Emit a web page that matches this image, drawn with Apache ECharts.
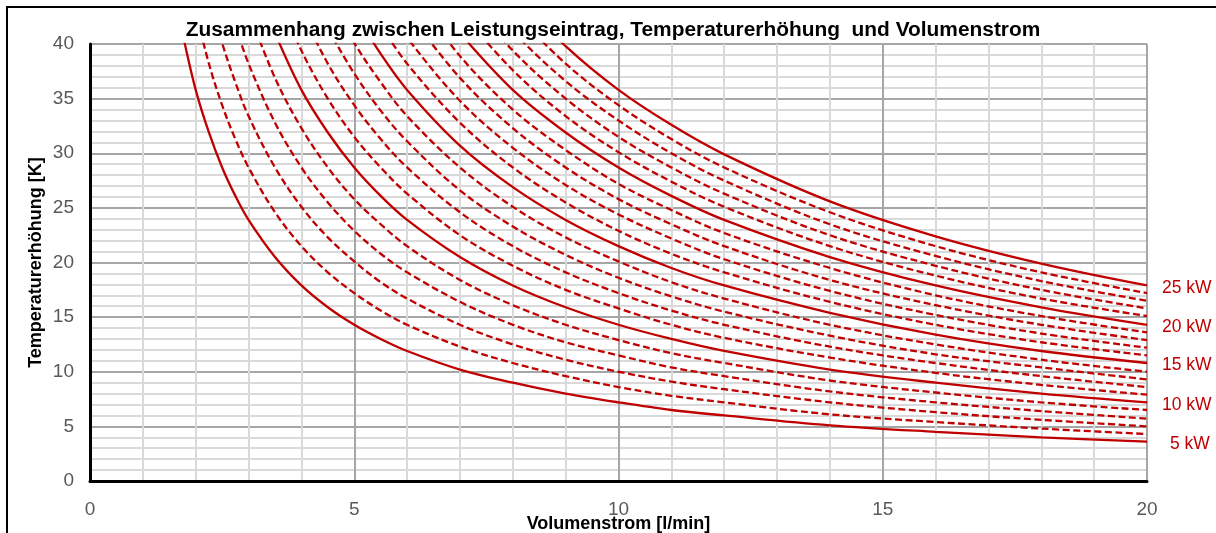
<!DOCTYPE html>
<html><head><meta charset="utf-8">
<script src="https://cdn.jsdelivr.net/npm/echarts@6/dist/echarts.min.js"></script>
<style>html,body{margin:0;padding:0;background:#fff}#c{width:1216px;height:533px}</style>
</head><body><div id="c"></div>
<script>
// Volumenstrom [l/min] sample positions
const flow = [1.75, 2, 2.25, 2.5, 2.75, 3, 3.5, 4, 4.5, 5, 5.5, 6, 7, 8, 9, 10, 11, 12, 14, 16, 18, 20];
const power = [5,6,7,8,9,10,11,12,13,14,15,16,17,18,19,20,21,22,23,24,25];
const n = null;
// Temperaturerhöhung [K] read per curve (null = above chart)
const kw5  = [41.0,35.8,31.9,28.7,26.1,23.9,20.5,17.9,15.9,14.3,13.0,11.9,10.2,9.0,8.0,7.2,6.5,6.0,5.1,4.5,4.0,3.6];
const kw6  = [n,43.0,38.2,34.4,31.3,28.7,24.6,21.5,19.1,17.2,15.6,14.3,12.3,10.8,9.6,8.6,7.8,7.2,6.1,5.4,4.8,4.3];
const kw7  = [n,n,44.6,40.1,36.5,33.4,28.7,25.1,22.3,20.1,18.2,16.7,14.3,12.5,11.1,10.0,9.1,8.4,7.2,6.3,5.6,5.0];
const kw8  = [n,n,n,n,41.7,38.2,32.8,28.7,25.5,22.9,20.8,19.1,16.4,14.3,12.7,11.5,10.4,9.6,8.2,7.2,6.4,5.7];
const kw9  = [n,n,n,n,n,43.0,36.9,32.3,28.7,25.8,23.5,21.5,18.4,16.1,14.3,12.9,11.7,10.8,9.2,8.1,7.2,6.5];
const kw10 = [n,n,n,n,n,n,41.0,35.8,31.9,28.7,26.1,23.9,20.5,17.9,15.9,14.3,13.0,11.9,10.2,9.0,8.0,7.2];
const kw11 = [n,n,n,n,n,n,45.0,39.4,35.0,31.5,28.7,26.3,22.5,19.7,17.5,15.8,14.3,13.1,11.3,9.9,8.8,7.9];
const kw12 = [n,n,n,n,n,n,n,43.0,38.2,34.4,31.3,28.7,24.6,21.5,19.1,17.2,15.6,14.3,12.3,10.8,9.6,8.6];
const kw13 = [n,n,n,n,n,n,n,n,41.4,37.3,33.9,31.1,26.6,23.3,20.7,18.6,16.9,15.5,13.3,11.6,10.4,9.3];
const kw14 = [n,n,n,n,n,n,n,n,44.6,40.1,36.5,33.4,28.7,25.1,22.3,20.1,18.2,16.7,14.3,12.5,11.1,10.0];
const kw15 = [n,n,n,n,n,n,n,n,n,43.0,39.1,35.8,30.7,26.9,23.9,21.5,19.5,17.9,15.4,13.4,11.9,10.8];
const kw16 = [n,n,n,n,n,n,n,n,n,n,41.7,38.2,32.8,28.7,25.5,22.9,20.8,19.1,16.4,14.3,12.7,11.5];
const kw17 = [n,n,n,n,n,n,n,n,n,n,44.3,40.6,34.8,30.5,27.1,24.4,22.2,20.3,17.4,15.2,13.5,12.2];
const kw18 = [n,n,n,n,n,n,n,n,n,n,n,43.0,36.9,32.3,28.7,25.8,23.5,21.5,18.4,16.1,14.3,12.9];
const kw19 = [n,n,n,n,n,n,n,n,n,n,n,45.4,38.9,34.0,30.3,27.2,24.8,22.7,19.5,17.0,15.1,13.6];
const kw20 = [n,n,n,n,n,n,n,n,n,n,n,n,41.0,35.8,31.9,28.7,26.1,23.9,20.5,17.9,15.9,14.3];
const kw21 = [n,n,n,n,n,n,n,n,n,n,n,n,43.0,37.6,33.4,30.1,27.4,25.1,21.5,18.8,16.7,15.1];
const kw22 = [n,n,n,n,n,n,n,n,n,n,n,n,45.0,39.4,35.0,31.5,28.7,26.3,22.5,19.7,17.5,15.8];
const kw23 = [n,n,n,n,n,n,n,n,n,n,n,n,47.1,41.2,36.6,33.0,30.0,27.5,23.5,20.6,18.3,16.5];
const kw24 = [n,n,n,n,n,n,n,n,n,n,n,n,n,43.0,38.2,34.4,31.3,28.7,24.6,21.5,19.1,17.2];
const kw25 = [n,n,n,n,n,n,n,n,n,n,n,n,n,44.8,39.8,35.8,32.6,29.9,25.6,22.4,19.9,17.9];
const curves = [kw5,kw6,kw7,kw8,kw9,kw10,kw11,kw12,kw13,kw14,kw15,kw16,kw17,kw18,kw19,kw20,kw21,kw22,kw23,kw24,kw25];
const xTicks = [0,5,10,15,20];
const yTicks = [0,5,10,15,20,25,30,35,40];

const FF = "'Liberation Sans', Arial, sans-serif";
const RED = '#C00000';
const chart = echarts.init(document.getElementById('c'), null, {renderer: 'canvas'});

const series = power.map((p, i) => {
  const solid = p % 5 === 0;
  const data = [];
  curves[i].forEach((v, j) => { if (v !== null) data.push([flow[j], v]); });
  return {
    type: 'line', name: p + ' kW', data: data,
    smooth: 0.35, symbol: 'none', clip: true, silent: true,
    lineStyle: {color: RED, width: 2.3, type: solid ? 'solid' : [7, 3.5]},
    endLabel: {
      show: solid, formatter: p + ' kW', color: RED, fontSize: 17.5, fontFamily: FF,
      distance: p === 5 ? 23 : 15, offset: [0, 2.5]
    },
    z: solid ? 3 : 2
  };
});

chart.setOption({
  animation: false,
  backgroundColor: '#fff',
  title: {
    text: 'Zusammenhang zwischen Leistungseintrag, Temperaturerhöhung  und Volumenstrom',
    left: 613, textAlign: 'center', top: 20, padding: 0,
    textStyle: {fontFamily: FF, fontSize: 20.9, fontWeight: 'bold', color: '#000'}
  },
  grid: {left: 90, right: 69, top: 44, bottom: 52, outerBoundsMode: 'none', containLabel: false},
  xAxis: {
    type: 'value', min: xTicks[0], max: xTicks[xTicks.length - 1], interval: 5,
    name: 'Volumenstrom [l/min]', nameLocation: 'middle', nameGap: 34, nameMoveOverlap: false,
    nameTextStyle: {fontFamily: FF, fontSize: 18, fontWeight: 'bold', color: '#000'},
    axisLine: {show: true, onZero: false, lineStyle: {color: '#000', width: 3}},
    axisTick: {show: false},
    axisLabel: {color: '#595959', fontSize: 19, fontFamily: FF, margin: 19},
    splitLine: {show: true, lineStyle: {color: '#A6A6A6', width: 2}},
    minorTick: {show: false, splitNumber: 5},
    minorSplitLine: {show: true, lineStyle: {color: '#D9D9D9', width: 2}}
  },
  yAxis: {
    type: 'value', min: yTicks[0], max: yTicks[yTicks.length - 1], interval: 5,
    name: 'Temperaturerhöhung [K]', nameLocation: 'middle', nameGap: 45, nameMoveOverlap: false,
    nameTextStyle: {fontFamily: FF, fontSize: 18, fontWeight: 'bold', color: '#000'},
    axisLine: {show: true, onZero: false, lineStyle: {color: '#000', width: 3}},
    axisTick: {show: false},
    axisLabel: {color: '#595959', fontSize: 19, fontFamily: FF, margin: 16},
    splitLine: {show: true, lineStyle: {color: '#A6A6A6', width: 2}},
    minorTick: {show: false, splitNumber: 5},
    minorSplitLine: {show: true, lineStyle: {color: '#D9D9D9', width: 2}}
  },
  graphic: [{
    type: 'rect', silent: true, z: 100,
    shape: {x: 7, y: 7, width: 1400, height: 800},
    style: {fill: null, stroke: '#000', lineWidth: 2}
  }],
  series: series
});
</script></body></html>
